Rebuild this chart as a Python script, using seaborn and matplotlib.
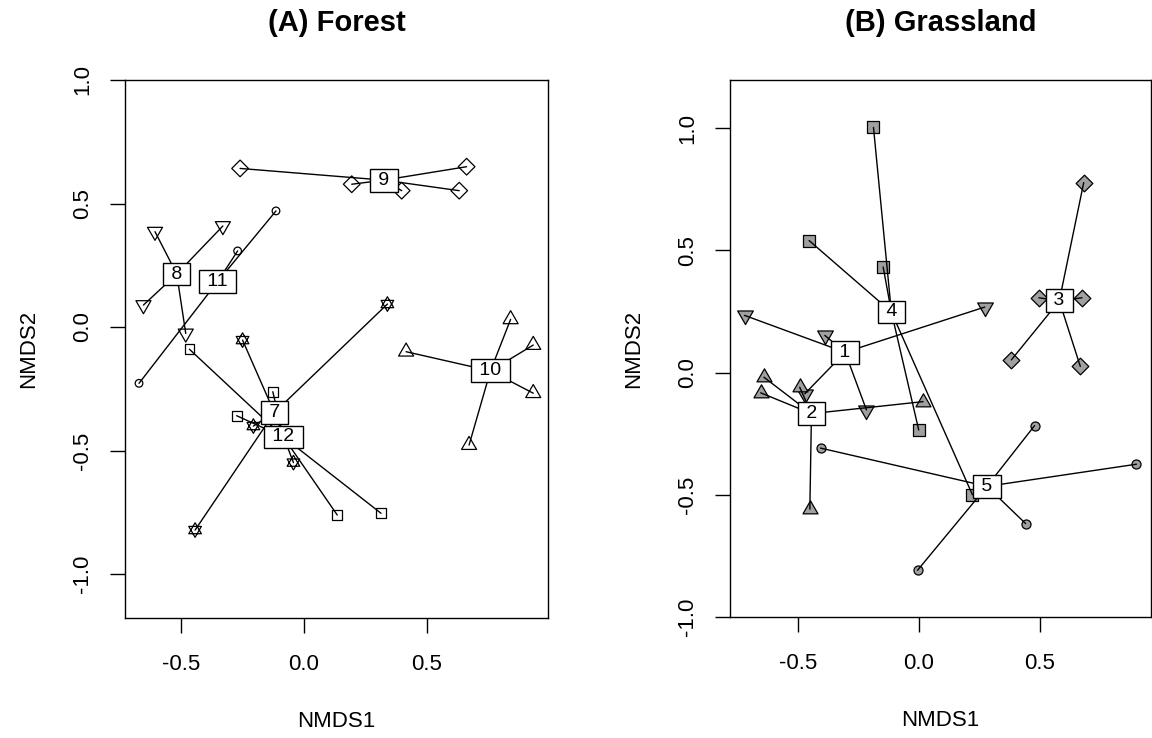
import numpy as np
import pandas as pd
import matplotlib
matplotlib.use("Agg")
import matplotlib.pyplot as plt
from matplotlib.path import Path
import seaborn as sns

# ── NMDS site scores ──
forest_group = [7] * 5 + [8] * 4 + [9] * 5 + [10] * 5 + [11] * 3 + [12] * 5
forest_nmds1 = [0.339, -0.250, -0.206, -0.043, -0.443,
                -0.606, -0.330, -0.653, -0.481,
                -0.260, 0.194, 0.397, 0.661, 0.631,
                0.415, 0.840, 0.932, 0.932, 0.671,
                -0.114, -0.270, -0.671,
                -0.466, -0.127, -0.274, 0.135, 0.313]
forest_nmds2 = [0.093, -0.053, -0.401, -0.549, -0.822,
                0.386, 0.409, 0.089, -0.026,
                0.642, 0.578, 0.552, 0.649, 0.552,
                -0.100, 0.031, -0.073, -0.268, -0.478,
                0.470, 0.308, -0.228,
                -0.090, -0.262, -0.359, -0.761, -0.754]

grass_group = [1] * 5 + [2] * 5 + [3] * 5 + [4] * 5 + [5] * 5
grass_nmds1 = [-0.720, -0.388, 0.273, -0.216, -0.471,
               -0.640, -0.653, -0.492, 0.018, -0.450,
               0.682, 0.497, 0.675, 0.383, 0.668,
               -0.187, -0.453, -0.147, 0.000, 0.222,
               0.479, 0.900, 0.442, -0.005, -0.406]
grass_nmds2 = [0.234, 0.152, 0.268, -0.153, -0.087,
               -0.019, -0.083, -0.060, -0.119, -0.559,
               0.777, 0.306, 0.306, 0.052, 0.025,
               1.003, 0.540, 0.432, -0.235, -0.500,
               -0.217, -0.375, -0.618, -0.809, -0.309]

xticks = [-0.5, 0.0, 0.5]
yticks = [-1.0, -0.5, 0.0, 0.5, 1.0]

# ── marker shapes (R-like pch symbols) ──
TRI_UP = Path([(0, 1), (-0.866, -0.5), (0.866, -0.5), (0, 1)], closed=True)
TRI_DOWN = Path([(0, -1), (-0.866, 0.5), (0.866, 0.5), (0, -1)], closed=True)
STAR = Path(np.vstack([TRI_UP.vertices, TRI_DOWN.vertices]),
            [Path.MOVETO, Path.LINETO, Path.LINETO, Path.CLOSEPOLY] * 2)

forest_styles = {7: (STAR, 10.5), 8: (TRI_DOWN, 12.5), 9: ("D", 8.5),
                 10: (TRI_UP, 12.5), 11: ("o", 5.5), 12: ("s", 7.0)}
grass_styles = {1: (TRI_DOWN, 13.0), 2: (TRI_UP, 12.5), 3: ("D", 8.5),
                4: ("s", 8.0), 5: ("o", 6.5)}

sns.set_theme(style="ticks")
plt.rcParams["font.family"] = ["Liberation Sans", "DejaVu Sans"]
plt.rcParams["axes.unicode_minus"] = False
plt.rcParams["axes.linewidth"] = 1.0
plt.rcParams["axes.edgecolor"] = "black"


def draw_panel(ax, df, styles, face, title, xlim, ylim):
    cent = df.groupby("group")[["nmds1", "nmds2"]].mean()
    for g, sub in df.groupby("group"):
        marker, ms = styles[g]
        sns.scatterplot(data=sub, x="nmds1", y="nmds2", ax=ax, marker=marker,
                        s=ms ** 2, color="black", facecolors=face,
                        edgecolor="black", linewidth=0.9, zorder=2, legend=False)
        cx, cy = cent.loc[g]
        # spider lines from the group centroid to every site
        for x, y in zip(sub["nmds1"], sub["nmds2"]):
            ax.plot([cx, x], [cy, y], color="black", lw=1.0, zorder=3)
        ax.text(cx, cy, f" {g} ", ha="center", va="center", fontsize=14,
                color="black", zorder=5,
                bbox=dict(boxstyle="square,pad=0.15", fc="white", ec="black", lw=1.0))

    ax.set_xlim(*xlim)
    ax.set_ylim(*ylim)
    ax.set_xticks(xticks)
    ax.set_xticklabels([f"{t:.1f}" for t in xticks])
    ax.set_yticks(yticks)
    ax.set_yticklabels([f"{t:.1f}" for t in yticks], rotation=90, va="center")
    ax.tick_params(axis="both", length=10.8, width=1.0, labelsize=16, colors="black")
    ax.tick_params(axis="x", pad=15)
    ax.tick_params(axis="y", pad=12)
    ax.set_xlabel("NMDS1", fontsize=16, labelpad=26, color="black")
    ax.set_ylabel("NMDS2", fontsize=16, labelpad=24, color="black")
    ax.set_title(title, fontsize=21, fontweight="bold", pad=35, color="black")
    for sp in ax.spines.values():
        sp.set_visible(True)
        sp.set_linewidth(1.0)


forest = pd.DataFrame({"group": forest_group, "nmds1": forest_nmds1, "nmds2": forest_nmds2})
grass = pd.DataFrame({"group": grass_group, "nmds1": grass_nmds1, "nmds2": grass_nmds2})

fig = plt.figure(figsize=(11.52, 7.38), dpi=100)
ax_a = fig.add_axes([0.1085, 0.1626, 0.3672, 0.729])
ax_b = fig.add_axes([0.6337, 0.1640, 0.3654, 0.7276])

draw_panel(ax_a, forest, forest_styles, "none", "(A) Forest", (-0.728, 0.992), (-1.178, 1.0))
draw_panel(ax_b, grass, grass_styles, "#a0a0a0", "(B) Grassland", (-0.78, 0.96), (-1.0, 1.197))

fig.savefig("out.png", dpi=100, facecolor="white")
